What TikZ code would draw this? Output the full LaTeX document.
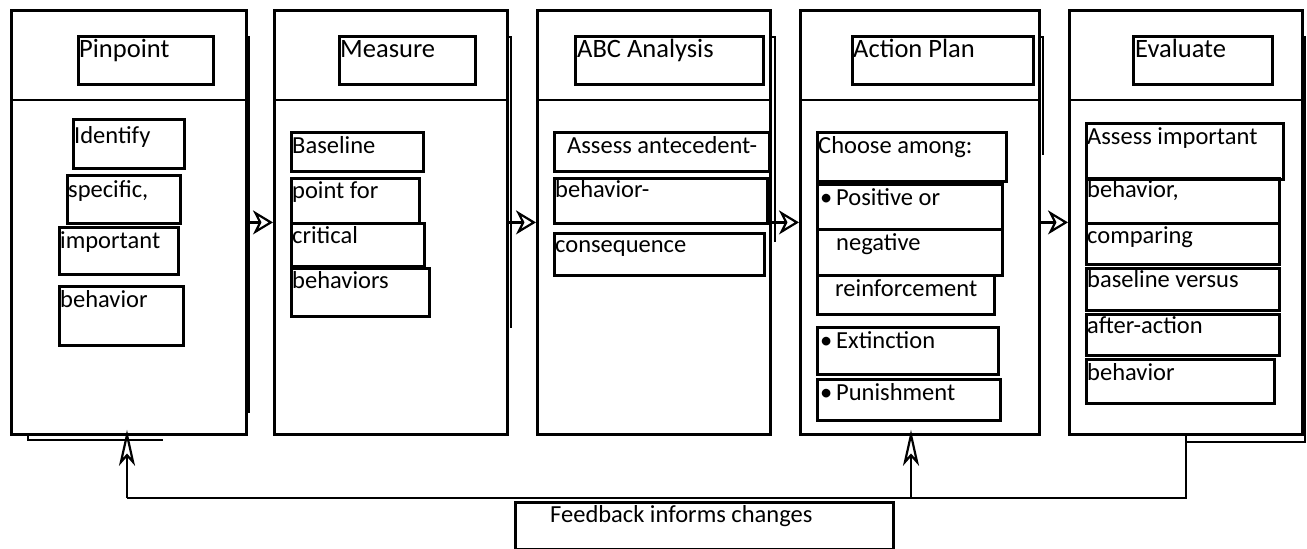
\documentclass[tikz,border=0pt]{standalone}
\usepackage{fontspec}
\setmainfont{Carlito}
\usetikzlibrary{arrows.meta}
\newcommand\tb[8]{%
  \node[tbox, minimum width=#4pt, minimum height=#5pt] (#1) at (#2,#3) {};
  \node[txt] (#1t) at ([xshift=#7pt, yshift=-#8pt]#1.north west) {#6};}
\newcommand\hb[8]{%
  \node[tbox, minimum width=#4pt, minimum height=#5pt] (#1) at (#2,#3) {};
  \node[htxt] (#1t) at ([xshift=#7pt, yshift=-#8pt]#1.north west) {#6};}
\newcommand\bul{\makebox[16pt][l]{•}}
\begin{document}
\begin{tikzpicture}[x=1pt,y=-1pt,
  lw/.style={line width=2.8pt},
  bigbox/.style={draw, lw, rectangle, anchor=north west, inner sep=0pt, minimum height=424pt},
  tbox/.style={draw, lw, rectangle, anchor=north west, inner sep=0pt},
  txt/.style={anchor=base west, inner sep=0pt, font=\fontsize{24.5}{28}\selectfont},
  htxt/.style={anchor=base west, inner sep=0pt, font=\fontsize{26.5}{30}\selectfont},
  flow/.style={lw, -{Stealth[open, length=20pt, width=24pt, inset=6pt, line width=2.2pt]}},
  up/.style={lw, shorten >=-6pt, -{Stealth[open, length=36pt, width=16pt, inset=9pt, line width=2.2pt]}},
  shadow/.style={lw}]
\useasboundingbox (0,0) rectangle (1307,549);

% big boxes
\node[bigbox, minimum width=235pt] (b1) at (10,9) {};
\node[bigbox, minimum width=233pt] (b2) at (273,9) {};
\node[bigbox, minimum width=233pt] (b3) at (536,9) {};
\node[bigbox, minimum width=239pt] (b4) at (799,9) {};
\node[bigbox, minimum width=233pt] (b5) at (1068,9) {};

% header dividers
\foreach \b in {b1,b2,b3,b4,b5}{
  \draw[lw] (\b.west |- 0,100) -- (\b.east |- 0,100);
}

% shadows
\draw[shadow] (245,37) -- (249,37) -- (249,413);
\draw[shadow] (28,433) -- (28,440) -- (163,440);
\draw[shadow] (506,37) -- (511,37) -- (511,328);
\draw[shadow] (769,37) -- (775,37) -- (775,242);
\draw[shadow] (1038,37) -- (1043,37) -- (1043,155);
\draw[shadow] (1301,37) -- (1305,37) -- (1305,442) -- (1186,442);

% headers
\hb{h1}{77}{35}{135}{48}{Pinpoint}{2}{22}
\hb{h2}{338}{35}{136}{48}{Measure}{2}{22}
\hb{h3}{574}{35}{188}{48}{ABC Analysis}{3}{22}
\hb{h4}{851}{35}{181}{48}{Action Plan}{2}{22}
\hb{h5}{1132}{35}{139}{48}{Evaluate}{3}{22}

% column 1
\tb{p1}{72}{118}{111}{49}{Identify}{2}{25}
\tb{p2}{66}{174}{113}{48}{specific,}{2}{23}
\tb{p3}{58}{226}{119}{47}{important}{2}{22}
\tb{p4}{58}{285}{124}{59}{behavior}{2}{22}

% column 2
\tb{m1}{290}{131}{132}{39}{Baseline}{2}{22}
\tb{m2}{290}{177}{128}{45}{point for}{2}{21}
\tb{m3}{290}{222}{133}{43}{critical}{2}{21}
\tb{m4}{290}{267}{138}{48}{behaviors}{2}{21}

% column 3
\tb{a1}{553}{131}{215}{39}{Assess antecedent-}{14}{22}
\tb{a2}{553}{177}{213}{45}{behavior-}{2}{20}
\tb{a3}{553}{232}{210}{42}{consequence}{2}{20}

% column 4
\tb{c1}{816}{131}{189}{49}{Choose among:}{2}{22}
\tb{c2}{816}{183}{185}{45}{\bul Positive or}{4}{22}
\tb{c3}{816}{228}{185}{46}{negative}{20}{22}
\tb{c4}{816}{274}{177}{39}{reinforcement}{19}{22}
\tb{c5}{816}{326}{181}{47}{\bul Extinction}{4}{22}
\tb{c6}{816}{378}{183}{41}{\bul Punishment}{4}{22}

% column 5
\tb{e1}{1085}{122}{197}{56}{Assess important}{2}{22}
\tb{e2}{1085}{177}{193}{45}{behavior,}{2}{20}
\tb{e3}{1085}{222}{193}{41}{comparing}{2}{21}
\tb{e4}{1085}{267}{193}{42}{baseline versus}{2}{20}
\tb{e5}{1085}{313}{193}{41}{after-action}{2}{20}
\tb{e6}{1085}{358}{188}{44}{behavior}{2}{22}

% feedback box
\tb{fb}{514}{501}{378}{47}{Feedback informs changes}{36}{21}

% flow arrows
\draw[flow] (b1.east) -- (b2.west);
\draw[flow] (b2.east) -- (b3.west);
\draw[flow] (b3.east) -- (b4.west);
\draw[flow] (b4.east) -- (b5.west);

% feedback loop
\coordinate (fbR) at (1186,498);
\coordinate (fbL) at (127,498);
\coordinate (fbM) at (911,498);
\draw[lw] (fbR |- b5.south) -- (fbR) -- (fbL);
\draw[up] (fbL) -- (fbL |- b1.south);
\draw[up] (fbM) -- (fbM |- b4.south);
\end{tikzpicture}
\end{document}
